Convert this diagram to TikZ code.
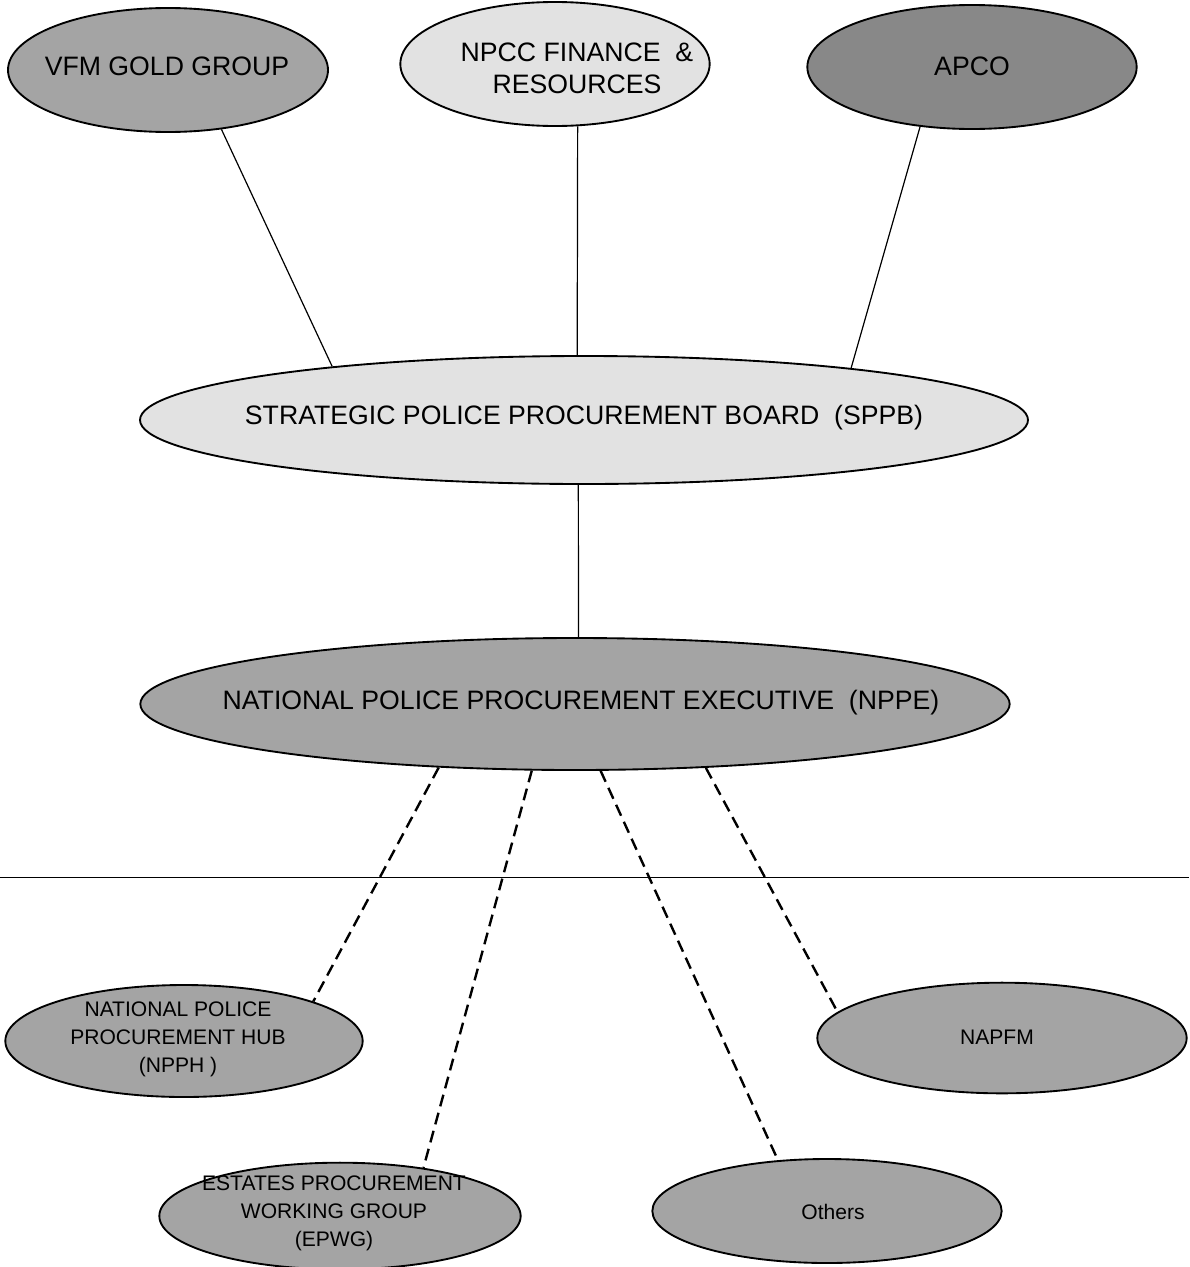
\documentclass[tikz,border=0pt]{standalone}
\usepackage{fontspec}
\setmainfont{Liberation Sans}
\usetikzlibrary{shapes.geometric}

\definecolor{paleshade}{RGB}{226,226,226}
\definecolor{midshade}{RGB}{164,164,164}
\definecolor{darkshade}{RGB}{136,136,136}

\tikzset{every picture/.style={line width=0.75pt}}

\begin{document}
\begin{tikzpicture}[x=0.75pt,y=0.75pt,yscale=-1,xscale=1,
  blob/.style={ellipse, draw, line width=1.4pt, inner sep=0pt},
  bigtxt/.style={font=\fontsize{20}{24}\selectfont, align=center, inner sep=0pt},
  smalltxt/.style={font=\fontsize{15.8}{21}\selectfont, align=center, inner sep=0pt},
  link/.style={line width=0.9pt},
  dashlink/.style={line width=1.8pt, dash pattern=on 9pt off 5pt}]
\useasboundingbox (0,0) rectangle (1189,1267);

%Shape: Ellipse (top row)
\node (vfm) [blob, fill=midshade, minimum width=240pt, minimum height=93pt] at (168,70) {};
\node (npcc) [blob, fill=paleshade, minimum width=232pt, minimum height=93pt] at (555,64) {};
\node (apco) [blob, fill=darkshade, minimum width=247pt, minimum height=93pt] at (972,67) {};

%Shape: Ellipse (boards)
\node (sppb) [blob, fill=paleshade, minimum width=666pt, minimum height=96pt] at (584,420) {};
\node (nppe) [blob, fill=midshade, minimum width=652pt, minimum height=99pt] at (575,704) {};

%Shape: Ellipse (bottom groups)
\node (npph) [blob, fill=midshade, minimum width=268pt, minimum height=84pt] at (184,1041) {};
\node (napfm) [blob, fill=midshade, minimum width=277pt, minimum height=83pt] at (1002,1038) {};
\node (epwg) [blob, fill=midshade, minimum width=271pt, minimum height=80pt] at (340,1216) {};
\node (others) [blob, fill=midshade, minimum width=262pt, minimum height=78pt] at (827,1211) {};

% Text Node
\node (vfm-t) [bigtxt] at (167,66) {VFM GOLD GROUP};
% Text Node
\node (npcc-t) [bigtxt] at (577,68) {NPCC FINANCE\ \ \& \\ RESOURCES};
% Text Node
\node (apco-t) [bigtxt] at (972,66) {APCO};
% Text Node
\node (sppb-t) [bigtxt] at (584,418) {STRATEGIC POLICE PROCUREMENT BOARD\ \ (SPPB)};
% Text Node
\node (nppe-t) [bigtxt] at (581,703) {NATIONAL POLICE PROCUREMENT EXECUTIVE\ \ (NPPE)};
% Text Node
\node (npph-t) [smalltxt] at (178,1039) {NATIONAL POLICE\\PROCUREMENT HUB\\(NPPH )};
% Text Node
\node (napfm-t) [smalltxt] at (997,1037) {NAPFM};
% Text Node
\node (epwg-t) [smalltxt] at (334,1213) {ESTATES PROCUREMENT\\WORKING GROUP\\(EPWG)};
% Text Node
\node (others-t) [smalltxt] at (833,1212) {Others};

%Straight Lines
\draw [link] (vfm.-48) -- (sppb.168);
\draw [link] (npcc.-70) -- (sppb.96);
\draw [link] (apco.-131) -- (sppb.11);
\draw [link] (sppb.-95) -- (nppe.87);

%Dashed Lines
\draw [dashlink] (nppe.-155) -- (npph.17);
\draw [dashlink] (nppe.-123) -- (epwg.30);
\draw [dashlink] (nppe.-69) -- (others.134);
\draw [dashlink] (nppe.-26) -- (napfm.171);

%Straight Lines [divider]
\draw [line width=0.6pt] (0,877) -- (1189,877);

\end{tikzpicture}
\end{document}
